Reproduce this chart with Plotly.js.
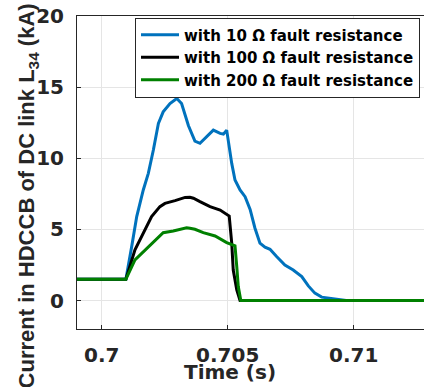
<!DOCTYPE html>
<html>
<head>
<meta charset="utf-8">
<script src="https://cdn.plot.ly/plotly-3.0.1.min.js"></script>
<style>html,body{margin:0;padding:0;background:#fff;}#chart{width:424px;height:387px;}</style>
</head>
<body>
<div id="chart"></div>
<script>
// Time (s)
const timeR10 = [0.698, 0.70096, 0.70119, 0.70139, 0.70165, 0.70185, 0.70205, 0.70225, 0.70244, 0.70271, 0.70298, 0.70317, 0.70344, 0.7037, 0.7039, 0.70417, 0.70443, 0.7047, 0.70483, 0.70496, 0.70506, 0.70516, 0.70529, 0.70549, 0.70569, 0.70589, 0.70608, 0.70628, 0.70648, 0.70668, 0.70694, 0.70727, 0.7076, 0.70794, 0.7082, 0.70846, 0.70873, 0.70906, 0.70939, 0.7097, 0.7135];
const currentR10 = [1.5, 1.5, 3.79, 5.9, 7.77, 8.94, 10.58, 12.45, 13.26, 13.85, 14.2, 13.85, 12.3, 11.2, 11.05, 11.51, 11.98, 11.75, 11.7, 11.98, 10.8, 9.64, 8.47, 7.77, 7.3, 6.4, 5.1, 4.03, 3.75, 3.6, 3.09, 2.5, 2.15, 1.68, 1.03, 0.52, 0.24, 0.14, 0.05, 0, 0];

const timeR100 = [0.698, 0.70096, 0.70132, 0.70165, 0.70198, 0.70231, 0.70251, 0.70291, 0.70331, 0.7035, 0.70364, 0.7039, 0.7043, 0.7047, 0.70506, 0.70516, 0.70522, 0.70536, 0.70549, 0.7135];
const currentR100 = [1.5, 1.5, 3.56, 4.73, 5.9, 6.6, 6.83, 7.02, 7.25, 7.26, 7.19, 6.95, 6.6, 6.36, 5.94, 4.03, 2.15, 0.75, 0, 0];

const timeR200 = [0.698, 0.70096, 0.70132, 0.70185, 0.70244, 0.70284, 0.70337, 0.7035, 0.7037, 0.70403, 0.7045, 0.70496, 0.70529, 0.70536, 0.70542, 0.70552, 0.7135];
const currentR200 = [1.5, 1.5, 2.86, 3.79, 4.77, 4.89, 5.12, 5.08, 5.01, 4.77, 4.54, 4.07, 3.84, 2.39, 0.98, 0, 0];

const seriesNames = ['with 10 \u03A9 fault resistance', 'with 100 \u03A9 fault resistance', 'with 200 \u03A9 fault resistance'];
const xTickVals = [0.7, 0.705, 0.71];
const xTickText = ['0.7', '0.705', '0.71'];
const yTickVals = [0, 5, 10, 15, 20];
const xTitle = 'Time (s)';
const yTitle = 'Current in HDCCB of DC link L<sub>34</sub> (kA)';

const FONT = 'DejaVu Sans, sans-serif';
const TXT = '#262626';

const traces = [
  {x: timeR10, y: currentR10, name: seriesNames[0], mode: 'lines', line: {color: '#0072BD', width: 3}},
  {x: timeR100, y: currentR100, name: seriesNames[1], mode: 'lines', line: {color: '#000000', width: 3}},
  {x: timeR200, y: currentR200, name: seriesNames[2], mode: 'lines', line: {color: '#008000', width: 3}}
];

const layout = {
  width: 424, height: 387,
  margin: {l: 77, r: 0, t: 16, b: 58, pad: 0},
  paper_bgcolor: '#fff', plot_bgcolor: '#fff',
  font: {family: FONT, color: TXT, size: 20, weight: 700},
  showlegend: true,
  legend: {
    x: 0.9885, xanchor: 'right', y: 0.9952, yanchor: 'top',
    bgcolor: '#fff', bordercolor: '#262626', borderwidth: 1,
    font: {family: FONT, size: 15, color: '#000', weight: 700},
    tracegroupgap: 0, itemwidth: 38
  },
  xaxis: {
    range: [0.69902, 0.71279],
    tickvals: xTickVals, ticktext: xTickText,
    ticks: 'inside', ticklen: 4, tickcolor: TXT, tickwidth: 1,
    showgrid: true, gridcolor: '#e5e5e5', gridwidth: 1,
    zeroline: false,
    showline: true, linecolor: TXT, linewidth: 1, mirror: true,
    tickfont: {family: FONT, size: 20, color: TXT, weight: 700},
    ticklabelstandoff: 8
  },
  yaxis: {
    range: [-2, 20],
    tickvals: yTickVals,
    ticks: 'inside', ticklen: 4, tickcolor: TXT, tickwidth: 1,
    showgrid: true, gridcolor: '#e5e5e5', gridwidth: 1,
    zeroline: false,
    showline: true, linecolor: TXT, linewidth: 1, mirror: false,
    tickfont: {family: FONT, size: 20, color: TXT, weight: 700},
    ticklabelstandoff: 8
  },
  annotations: [
    {text: xTitle, xref: 'paper', yref: 'paper', x: 0.4409, y: -0.137, xanchor: 'center', yanchor: 'middle',
     showarrow: false, font: {family: FONT, size: 20, color: TXT, weight: 700}},
    {text: yTitle, xref: 'paper', yref: 'paper', x: -0.140, y: 0.425, xanchor: 'center', yanchor: 'middle',
     textangle: -90, showarrow: false, font: {family: 'Liberation Sans, Arial, sans-serif', size: 22, color: TXT, weight: 700}}
  ]
};

Plotly.newPlot('chart', traces, layout, {displayModeBar: false, staticPlot: true});
</script>
</body>
</html>
